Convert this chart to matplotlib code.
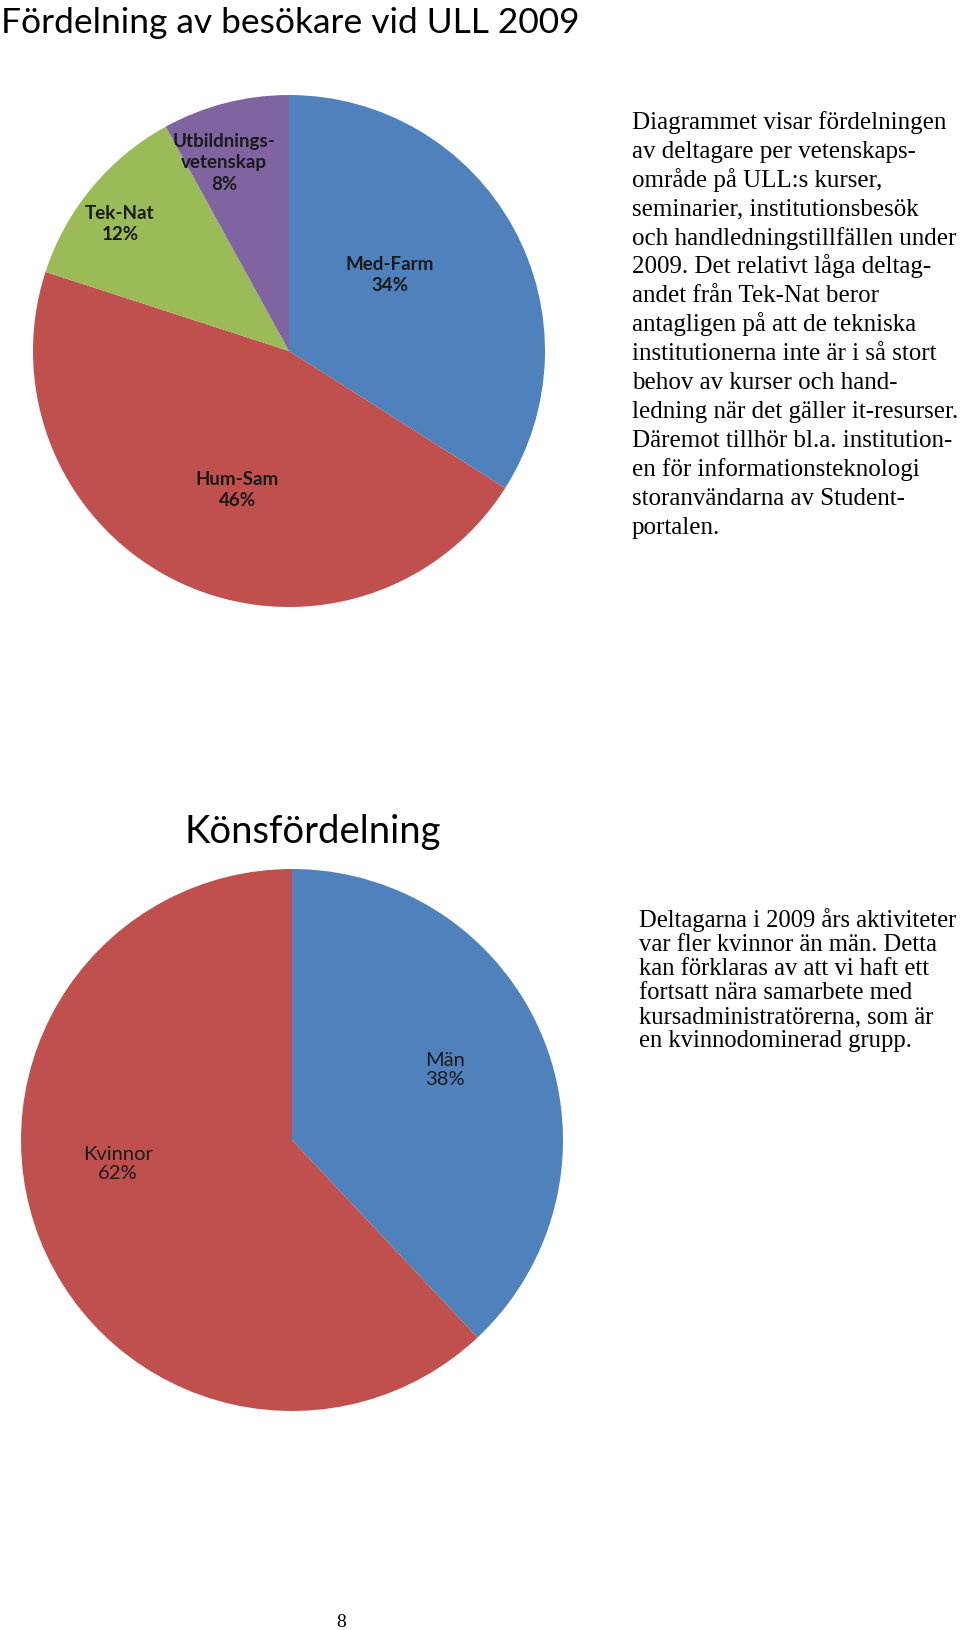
#
# Two pie charts: visitors per faculty area at ULL 2009, and gender distribution,
# with the explanatory Swedish text beside each chart
#

import matplotlib
matplotlib.use("Agg")
import matplotlib.pyplot as plt

W, H = 960, 1630

# visitors per area
areas = ["Med-Farm", "Hum-Sam", "Tek-Nat", "Utbildnings-\nvetenskap"]
area_share = [34, 46, 12, 8]
area_colors = ["#4F81BD", "#C0504D", "#9BBB59", "#8064A2"]

# gender split
genders = ["Män", "Kvinnor"]
gender_share = [38, 62]
gender_colors = ["#4F81BD", "#C0504D"]

text_top = [
    "Diagrammet visar fördelningen",
    "av deltagare per vetenskaps-",
    "område på ULL:s kurser,",
    "seminarier, institutionsbesök",
    "och handledningstillfällen under",
    "2009. Det relativt låga deltag-",
    "andet från Tek-Nat beror",
    "antagligen på att de tekniska",
    "institutionerna inte är i så stort",
    "behov av kurser och hand-",
    "ledning när det gäller it-resurser.",
    "Däremot tillhör bl.a. institution-",
    "en för informationsteknologi",
    "storanvändarna av Student-",
    "portalen.",
]
text_bottom = [
    "Deltagarna i 2009 års aktiviteter",
    "var fler kvinnor än män. Detta",
    "kan förklaras av att vi haft ett",
    "fortsatt nära samarbete med",
    "kursadministratörerna, som är",
    "en kvinnodominerad grupp.",
]


def pie_axes(fig, cx, cy, r):
    # axes placed in pixel coordinates (y from top)
    ax = fig.add_axes([(cx - r) / W, 1 - (cy + r) / H, 2 * r / W, 2 * r / H])
    ax.axis("off")
    return ax


def lines_at(fig, lines, x, y0, step, size):
    for i, line in enumerate(lines):
        fig.text(x / W, 1 - (y0 + i * step) / H, line, fontsize=size,
                 family="Liberation Serif", va="baseline", ha="left")


fig = plt.figure(figsize=(W / 100, H / 100), dpi=100)

# ---- top chart ----
fig.text(1 / W, 1 - 33 / H, "Fördelning av besökare vid ULL 2009",
         fontsize=25.5, family="Lato", va="baseline", ha="left")

ax1 = pie_axes(fig, 289, 351, 256)
ax1.pie(area_share, colors=area_colors, startangle=90, counterclock=False,
        radius=1, wedgeprops=dict(linewidth=0))
ax1.set_xlim(-1, 1)
ax1.set_ylim(-1, 1)
label_pos1 = [(0.395, 0.297), (-0.203, -0.543), (-0.66, 0.496), (-0.254, 0.735)]
for name, val, (lx, ly) in zip(areas, area_share, label_pos1):
    ax1.text(lx, ly, f"{name}\n{val}%", ha="center", va="center",
             fontsize=13.5, family="Lato", fontweight="bold", color="#1a1a1a",
             linespacing=1.3)

lines_at(fig, text_top, 632, 129, 28.9, 18)

# ---- bottom chart ----
fig.text(313 / W, 1 - 843 / H, "Könsfördelning", fontsize=27.5,
         family="Lato", va="baseline", ha="center")

ax2 = pie_axes(fig, 292, 1140, 271)
ax2.pie(gender_share, colors=gender_colors, startangle=90, counterclock=False,
        radius=1, wedgeprops=dict(linewidth=0))
ax2.set_xlim(-1, 1)
ax2.set_ylim(-1, 1)
label_pos2 = [(0.565, 0.258), (-0.642, -0.089)]
for name, val, (lx, ly) in zip(genders, gender_share, label_pos2):
    ax2.text(lx, ly, f"{name}\n{val}%", ha="center", va="center",
             fontsize=14.5, family="Lato", color="#1a1a1a", linespacing=1.15)

lines_at(fig, text_bottom, 639, 927, 24, 17.7)

fig.text(341 / W, 1 - 1627 / H, "8", fontsize=14, family="Liberation Serif",
         va="baseline", ha="center")

fig.savefig("out.png", dpi=100)
